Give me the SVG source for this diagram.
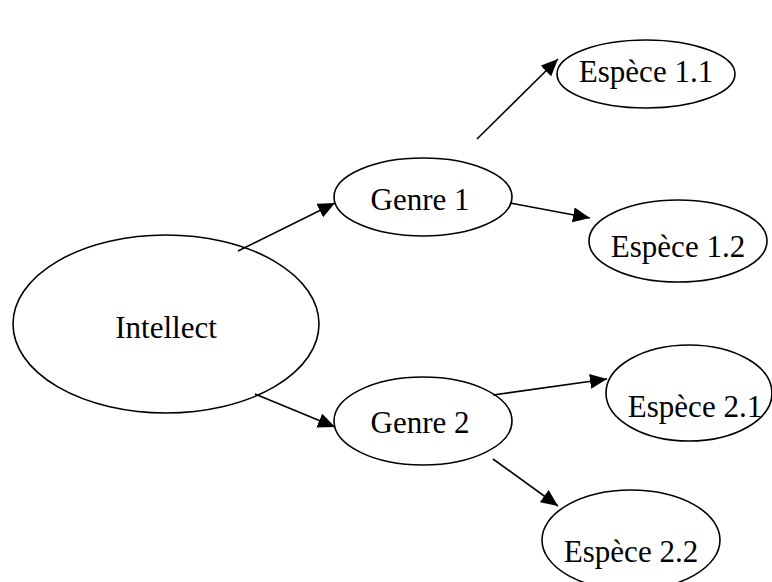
<svg xmlns="http://www.w3.org/2000/svg" width="772" height="582" viewBox="0 0 772 582">
<style>
.node ellipse{fill:#fff;stroke:#000;stroke-width:1.6}
.node text{font-family:"Liberation Serif","Times New Roman",serif;font-size:31px;fill:#000;text-anchor:middle}
.edges line{stroke:#000;stroke-width:1.6}
</style>
<defs>
<marker id="arrow" markerUnits="userSpaceOnUse" markerWidth="20" markerHeight="16" refX="17" refY="7.5" orient="auto">
<path d="M0,0 L17,7.5 L0,15 z" fill="#000"/>
</marker>
</defs>
<rect width="772" height="582" fill="#fff"/>
<g id="n-intellect" class="node"><ellipse cx="166" cy="324" rx="153" ry="89"/><text x="166" y="338">Intellect</text></g>
<g id="n-genre1" class="node"><ellipse cx="423" cy="197" rx="89" ry="39"/><text x="420" y="210">Genre 1</text></g>
<g id="n-genre2" class="node"><ellipse cx="423" cy="421" rx="89" ry="44"/><text x="420" y="433">Genre 2</text></g>
<g id="n-esp11" class="node"><ellipse cx="646" cy="74" rx="89" ry="34"/><text x="646" y="82">Espèce 1.1</text></g>
<g id="n-esp12" class="node"><ellipse cx="678" cy="241" rx="89" ry="41"/><text x="678" y="257">Espèce 1.2</text></g>
<g id="n-esp21" class="node"><ellipse cx="689" cy="393" rx="83" ry="48"/><text x="695" y="417">Espèce 2.1</text></g>
<g id="n-esp22" class="node"><ellipse cx="631" cy="540" rx="89" ry="50"/><text x="631" y="562">Espèce 2.2</text></g>
<g id="edges" class="edges">
<line x1="238" y1="251" x2="335" y2="203" marker-end="url(#arrow)"/>
<line x1="477" y1="139" x2="558" y2="59" marker-end="url(#arrow)"/>
<line x1="510" y1="203" x2="590" y2="218" marker-end="url(#arrow)"/>
<line x1="255" y1="394" x2="335" y2="427" marker-end="url(#arrow)"/>
<line x1="493" y1="395" x2="607" y2="379" marker-end="url(#arrow)"/>
<line x1="493" y1="459" x2="558" y2="506" marker-end="url(#arrow)"/>
</g>
</svg>
